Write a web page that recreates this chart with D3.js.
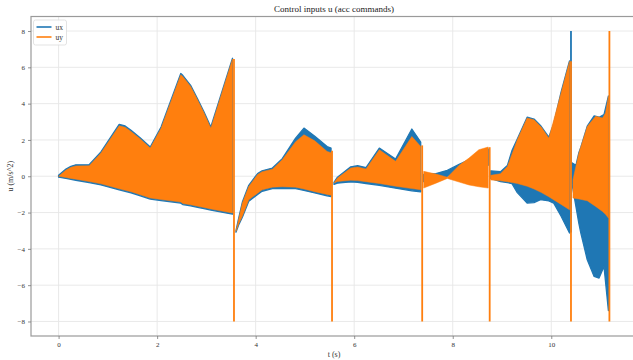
<!DOCTYPE html>
<html>
<head>
<meta charset="utf-8">
<script src="https://cdn.jsdelivr.net/npm/d3@7"></script>
<style>
  body { margin: 0; background: #fff; }
  svg { display: block; font-family: "Liberation Serif", "DejaVu Serif", serif; }
</style>
</head>
<body>
<svg id="chart" width="633" height="360"></svg>
<script>
// ticks and labels
const xTicks = [0, 2, 4, 6, 8, 10];
const yTicks = [-8, -6, -4, -2, 0, 2, 4, 6, 8];
const seriesNames = ["ux", "uy"];
const seriesColors = ["#1f77b4", "#ff7f0e"];

// envelope of the oscillating signal, per segment: [t, upper, lower]
const uxSegments = [
  [[0, 0.05, -0.05], [0.15, 0.4, -0.12], [0.25, 0.55, -0.17], [0.35, 0.63, -0.22], [0.62, 0.64, -0.35],
   [0.86, 1.34, -0.48], [1.23, 2.86, -0.75], [1.35, 2.77, -0.83], [1.47, 2.53, -0.91], [1.66, 2.11, -1.08],
   [1.86, 1.61, -1.26], [2.08, 2.71, -1.34], [2.48, 5.66, -1.48], [2.52, 5.56, -1.56], [2.68, 5.01, -1.63],
   [2.82, 4.27, -1.71], [2.95, 3.55, -1.78], [3.09, 2.71, -1.86], [3.53, 6.5, -2.09]],
  [[3.6, -3.0, -3.08], [3.66, -2.25, -2.65], [3.73, -1.42, -2.26], [3.86, -0.5, -1.38], [4.04, 0.15, -1.0],
   [4.13, 0.3, -0.83], [4.34, 0.45, -0.68], [4.54, 0.97, -0.66], [4.81, 2.1, -0.68], [4.98, 2.65, -0.78],
   [5.2, 2.2, -0.92], [5.45, 1.64, -1.08], [5.53, 1.55, -1.12]],
  [[5.59, -0.33, -0.45], [5.66, -0.05, -0.38], [5.93, 0.52, -0.31], [6.07, 0.58, -0.33], [6.24, 0.48, -0.4],
   [6.51, 1.55, -0.5], [6.84, 0.95, -0.66], [7.17, 2.6, -0.8], [7.35, 1.88, -0.86]],
  [[7.41, 0.1, -0.3], [7.66, 0.15, -0.15], [7.89, 0.33, 0.0], [8.13, 0.65, 0.3], [8.33, 0.9, 0.5],
   [8.53, 1.3, 0.6], [8.72, 1.5, 0.6]],
  [[8.77, 0.3, -0.12], [8.97, 0.25, -0.3], [9.11, 0.6, -0.35], [9.2, 1.4, -0.4], [9.31, 2.05, -0.9],
   [9.51, 3.25, -1.48], [9.65, 3.15, -1.45], [9.78, 2.8, -1.29], [9.95, 2.15, -1.36], [10.05, 2.9, -1.48],
   [10.2, 4.65, -2.2], [10.37, 6.35, -3.13]],
  [[10.42, 0.74, -0.4], [10.5, 0.6, -1.66], [10.56, 1.3, -2.6], [10.6, 1.6, -3.13], [10.73, 2.76, -4.6],
   [10.87, 3.32, -5.52], [10.97, 3.25, -5.61], [11.07, 3.4, -4.97], [11.16, 4.42, -7.4]]
];
const uySegments = [
  [[0, 0, 0], [0.15, 0.34, -0.07], [0.25, 0.49, -0.12], [0.35, 0.57, -0.16], [0.62, 0.58, -0.29],
   [0.86, 1.28, -0.42], [1.23, 2.78, -0.69], [1.35, 2.7, -0.77], [1.47, 2.47, -0.85], [1.66, 2.05, -1.02],
   [1.86, 1.55, -1.2], [2.08, 2.65, -1.28], [2.48, 5.59, -1.42], [2.52, 5.5, -1.5], [2.68, 4.95, -1.57],
   [2.82, 4.21, -1.65], [2.95, 3.5, -1.72], [3.09, 2.65, -1.8], [3.53, 6.46, -2.03]],
  [[3.6, -3.04, -3.04], [3.66, -2.3, -2.6], [3.73, -1.48, -2.2], [3.86, -0.56, -1.3], [4.04, 0.1, -0.93],
   [4.13, 0.25, -0.75], [4.34, 0.39, -0.6], [4.54, 0.91, -0.58], [4.81, 1.9, -0.6], [4.98, 2.29, -0.7],
   [5.2, 1.95, -0.85], [5.45, 1.37, -1.0], [5.53, 1.3, -1.04]],
  [[5.59, -0.37, -0.37], [5.66, -0.1, -0.29], [5.93, 0.45, -0.22], [6.07, 0.51, -0.24], [6.24, 0.4, -0.3],
   [6.51, 1.46, -0.4], [6.84, 0.82, -0.55], [7.17, 2.19, -0.68], [7.35, 1.64, -0.74]],
  [[7.41, 0.27, -0.65], [7.66, 0.12, -0.38], [7.89, -0.05, -0.12], [8.13, 0.6, -0.32], [8.33, 1.0, -0.48],
   [8.53, 1.46, -0.58], [8.72, 1.61, -0.65]],
  [[8.77, 0.05, -0.2], [8.97, 0.14, -0.25], [9.11, 0.54, -0.3], [9.31, 2.01, -0.4], [9.51, 3.21, -0.55],
   [9.65, 3.11, -0.7], [9.8, 2.7, -0.9], [9.95, 2.1, -1.13], [10.2, 4.6, -1.55], [10.37, 6.33, -1.85]],
  [[10.44, -0.19, -1.2], [10.56, 1.28, -1.25], [10.73, 2.74, -1.35], [10.9, 3.3, -1.66], [11.04, 3.21, -1.94],
   [11.1, 3.48, -2.1], [11.16, 4.4, -2.3]]
];
// saturation spikes: [t, lower, upper]
const uxSpikes = [[10.40, -3.1, 8.0]];
const uySpikes = [[3.56, -8.0, 6.46], [5.55, -8.0, 1.4], [7.38, -8.0, 1.7], [8.75, -8.0, 1.6],
                  [10.40, -8.0, 6.33], [11.18, -8.0, 8.0]];

const margin = { left: 31, top: 16.5, right: 637, bottom: 336 };

const svg = d3.select("#chart");

const x = d3.scaleLinear().domain([-0.56, 11.74]).range([margin.left, margin.right]);
const y = d3.scaleLinear().domain([-8.8, 8.8]).range([margin.bottom, margin.top]);

// grid
svg.append("g").selectAll("line.gx").data(xTicks).enter().append("line")
  .attr("x1", d => x(d)).attr("x2", d => x(d))
  .attr("y1", margin.top).attr("y2", margin.bottom)
  .attr("stroke", "#e6e6e6").attr("stroke-width", 0.9);
svg.append("g").selectAll("line.gy").data(yTicks).enter().append("line")
  .attr("x1", margin.left).attr("x2", margin.right)
  .attr("y1", d => y(d)).attr("y2", d => y(d))
  .attr("stroke", "#e6e6e6").attr("stroke-width", 0.9);

const area = d3.area()
  .x(d => x(d[0]))
  .y0(d => y(d[2]))
  .y1(d => y(d[1]));

// ux first, uy drawn over it
const plot = svg.append("g");
[uxSegments, uySegments].forEach((segs, i) => {
  plot.append("g").selectAll("path").data(segs).enter().append("path")
    .attr("d", area)
    .attr("fill", seriesColors[i])
    .attr("stroke", seriesColors[i])
    .attr("stroke-width", i == 0 ? 1.3 : 0.5)
    .attr("stroke-linejoin", "round");
  const spikes = i == 0 ? uxSpikes : uySpikes;
  plot.append("g").selectAll("line").data(spikes).enter().append("line")
    .attr("x1", d => x(d[0])).attr("x2", d => x(d[0]))
    .attr("y1", d => y(d[1])).attr("y2", d => y(d[2]))
    .attr("stroke", seriesColors[i])
    .attr("stroke-width", 1.8);
});

// spines
const spine = "#9a9a9a";
svg.append("rect")
  .attr("x", margin.left).attr("y", margin.top)
  .attr("width", margin.right - margin.left).attr("height", margin.bottom - margin.top)
  .attr("fill", "none").attr("stroke", spine).attr("stroke-width", 1.2);

// axes
const xAxis = svg.append("g")
  .attr("transform", `translate(0,${margin.bottom})`)
  .call(d3.axisBottom(x).tickValues(xTicks).tickSize(3).tickPadding(3));
const yAxis = svg.append("g")
  .attr("transform", `translate(${margin.left},0)`)
  .call(d3.axisLeft(y).tickValues(yTicks).tickSize(3).tickPadding(3)
        .tickFormat(d => d < 0 ? "\u2212" + Math.abs(d) : d));
[xAxis, yAxis].forEach(a => {
  a.select(".domain").remove();
  a.selectAll(".tick line").attr("stroke", "#777").attr("stroke-width", 0.8);
  a.selectAll("text").attr("fill", "#333").style("font-size", "7px")
    .style("font-family", "Liberation Serif, serif");
});

// labels
svg.append("text")
  .attr("x", (margin.left + margin.right) / 2).attr("y", 12)
  .attr("text-anchor", "middle").style("font-size", "9px").attr("fill", "#222")
  .text("Control inputs u (acc commands)");
svg.append("text")
  .attr("x", (margin.left + margin.right) / 2).attr("y", 357)
  .attr("text-anchor", "middle").style("font-size", "8px").attr("fill", "#333")
  .text("t (s)");
svg.append("text")
  .attr("transform", `translate(13,${y(0)}) rotate(-90)`)
  .attr("text-anchor", "middle").style("font-size", "8px").attr("fill", "#333")
  .text("u (m/s^2)");

// legend
const legend = svg.append("g").attr("transform", "translate(33.5,20)");
legend.append("rect")
  .attr("width", 33).attr("height", 25).attr("rx", 2)
  .attr("fill", "#fff").attr("fill-opacity", 0.85)
  .attr("stroke", "#dcdcdc").attr("stroke-width", 0.8);
legend.selectAll("g.item").data(seriesNames).enter().append("g")
  .attr("transform", (d, i) => `translate(0,${7 + i * 10})`)
  .each(function(d, i) {
    const g = d3.select(this);
    g.append("line").attr("x1", 3).attr("x2", 18).attr("y1", 0).attr("y2", 0)
      .attr("stroke", seriesColors[i]).attr("stroke-width", 1.6);
    g.append("text").attr("x", 22).attr("y", 2.5)
      .style("font-size", "7.5px").attr("fill", "#333").text(d);
  });
</script>
</body>
</html>
